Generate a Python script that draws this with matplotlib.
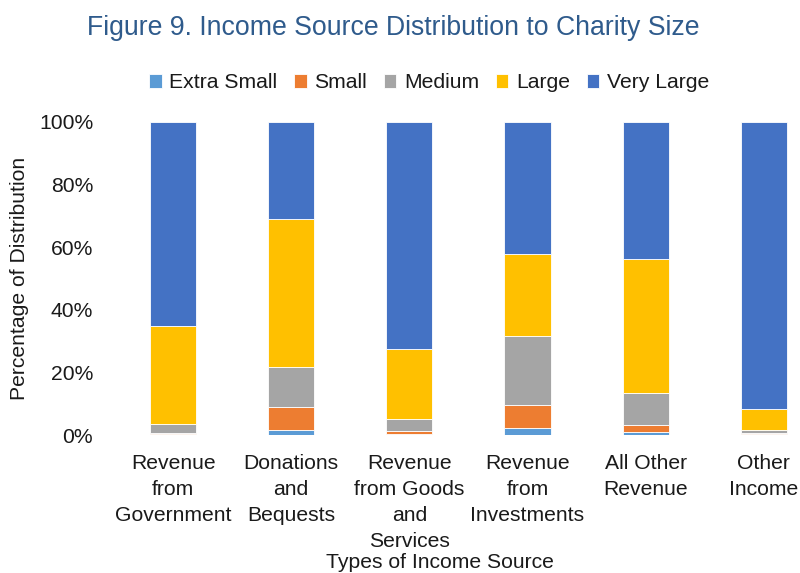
import matplotlib
matplotlib.use("Agg")
import matplotlib.pyplot as plt
import numpy as np
from matplotlib.ticker import FuncFormatter

plt.rcParams['font.family'] = ['Liberation Sans', 'DejaVu Sans']

categories = [
    "Revenue\nfrom\nGovernment",
    "Donations\nand\nBequests",
    "Revenue\nfrom Goods\nand\nServices",
    "Revenue\nfrom\nInvestments",
    "All Other\nRevenue",
    "Other\nIncome",
]
sizes = ["Extra Small", "Small", "Medium", "Large", "Very Large"]

extra_small = [0.2, 1.5, 0.3, 2.1, 0.9, 0.2]
small       = [0.5, 7.5, 1.1, 7.4, 2.3, 0.4]
medium      = [2.7, 12.8, 3.7, 22.2, 10.3, 1.1]
large       = [31.5, 47.2, 22.4, 26.1, 42.7, 6.6]
very_large  = [65.1, 31.0, 72.5, 42.2, 43.8, 91.7]

colors = ["#5B9BD5", "#ED7D31", "#A5A5A5", "#FFC000", "#4472C4"]
text_color = "#1a1a1a"
fs = 15.2

fig = plt.figure(figsize=(8.0, 5.73), dpi=100)
ax = fig.add_axes([0.1425, 0.2408, 0.886, 0.5463])

x = np.arange(len(categories))
bottom = np.zeros(len(categories))
for name, vals, col in zip(sizes, [extra_small, small, medium, large, very_large], colors):
    v = np.array(vals) / 100.0
    ax.bar(x, v, 0.39, bottom=bottom, color=col, label=name,
           edgecolor="white", linewidth=0.6)
    bottom += v

ax.set_xlim(-0.5, len(categories) - 0.5)
ax.set_ylim(0, 1.0)
ax.set_yticks(np.arange(0, 1.01, 0.2))
ax.yaxis.set_major_formatter(FuncFormatter(lambda v, p: f"{v*100:.0f}%"))
ax.set_xticks(x)
ax.set_xticklabels(categories, fontsize=fs, color=text_color, linespacing=1.45, va="top")
ax.tick_params(axis='y', labelsize=fs, labelcolor=text_color, length=0, pad=15)
ax.tick_params(axis='x', length=0, pad=14)
for s in ax.spines.values():
    s.set_visible(False)

fig.text(20/800, 1 - 278/573, "Percentage of Distribution", fontsize=fs,
         color=text_color, rotation=90, ha="center", va="center")
fig.text(326/800, 1 - 563/573, "Types of Income Source", fontsize=fs,
         color=text_color, ha="left", va="center")

fig.text(393/800, 1 - 28/573, "Figure 9. Income Source Distribution to Charity Size",
         fontsize=19.2, color="#2F5B8C", ha="center", va="center")

leg = fig.legend(loc="center", bbox_to_anchor=(429/800, 1 - 83/573), ncol=5,
                 frameon=False, fontsize=fs, handlelength=0.6, handleheight=0.6,
                 handletextpad=0.35, columnspacing=0.8, borderaxespad=0)
for t in leg.get_texts():
    t.set_color(text_color)

fig.savefig("out.png", dpi=100)
